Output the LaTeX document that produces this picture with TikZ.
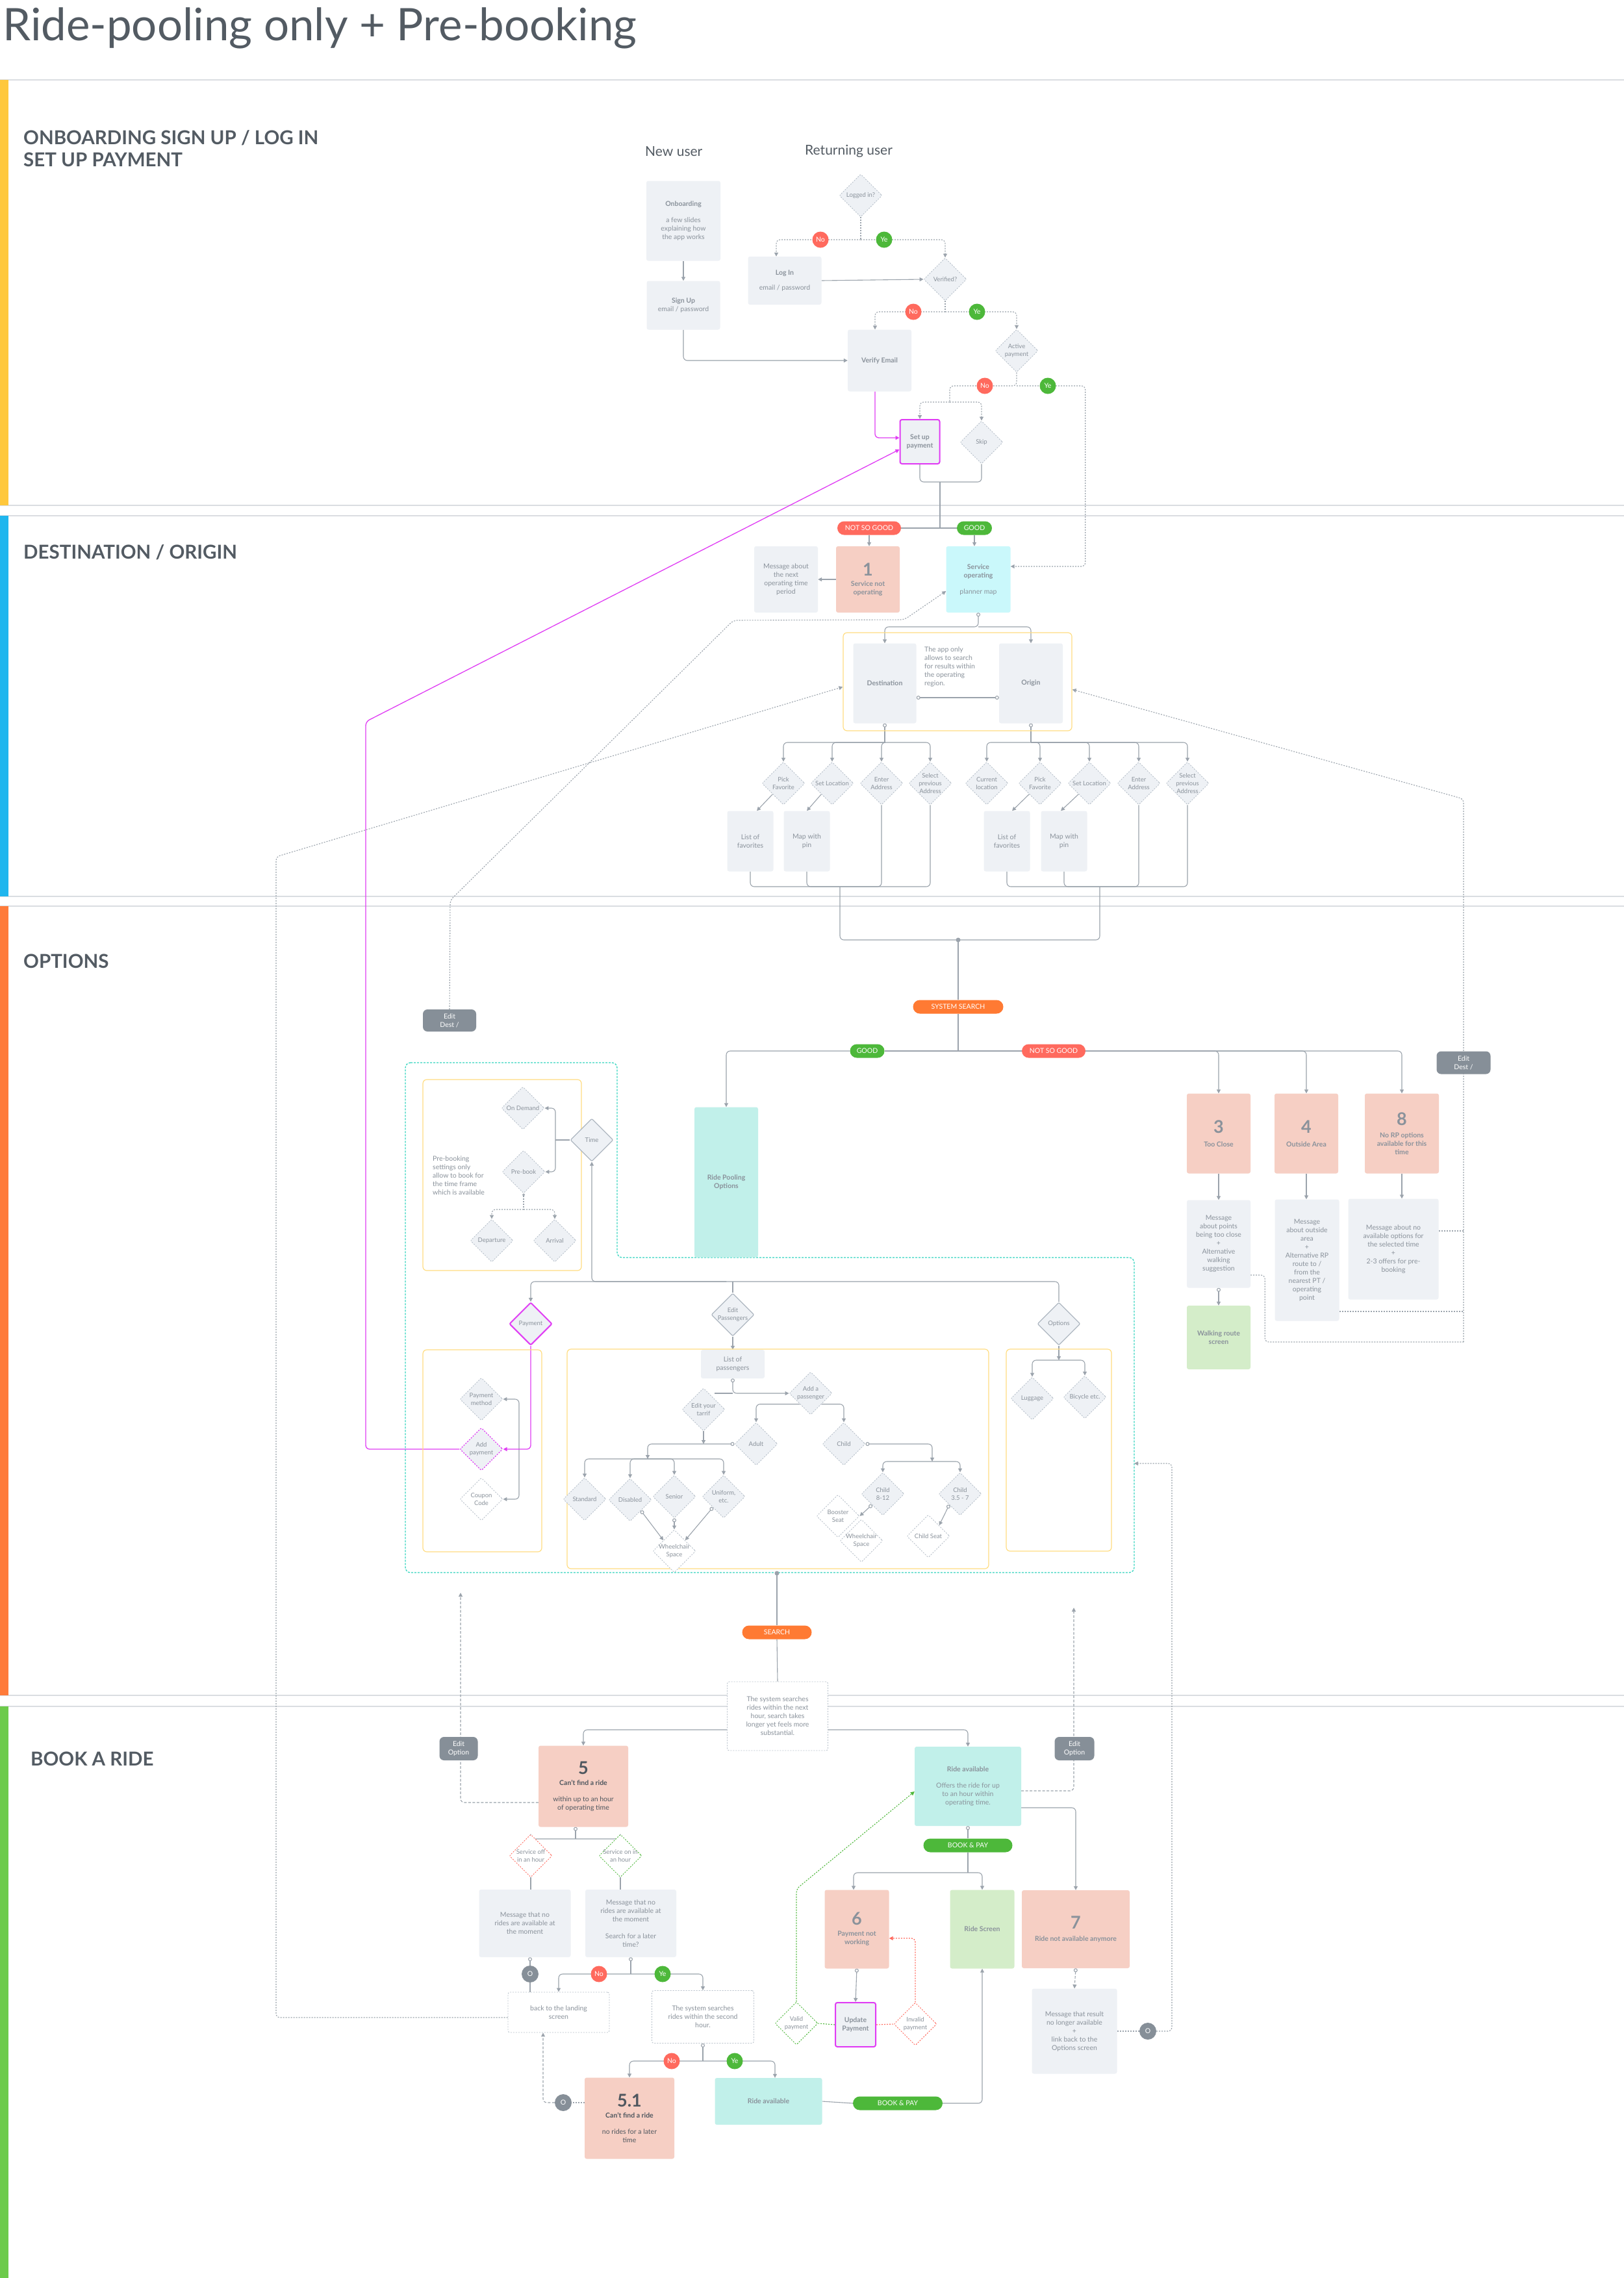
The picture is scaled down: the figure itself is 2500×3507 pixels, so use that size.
\documentclass[tikz,border=0pt]{standalone}
\usepackage{fontspec}
\setmainfont{Lato}
\usetikzlibrary{shapes.geometric, arrows.meta, positioning, fit, calc, backgrounds}

\definecolor{lnc}{HTML}{9BA3AC}
\definecolor{boxg}{HTML}{EEF1F5}
\definecolor{txt}{HTML}{8A929B}
\definecolor{darkt}{HTML}{4F575F}
\definecolor{titlec}{HTML}{535B63}
\definecolor{dashc}{HTML}{B7C0CA}
\definecolor{edgec}{HTML}{AEB7C1}
\definecolor{salmon}{HTML}{F6CFC4}
\definecolor{cyanbx}{HTML}{CAF8FB}
\definecolor{mint}{HTML}{C1F0EA}
\definecolor{lgreen}{HTML}{D4EDC9}
\definecolor{ybord}{HTML}{FFDD82}
\definecolor{tealc}{HTML}{34D5BF}
\definecolor{mag}{HTML}{E03CF4}
\definecolor{nred}{HTML}{FF6A5E}
\definecolor{ngreen}{HTML}{4DB83A}
\definecolor{norange}{HTML}{FF7A33}
\definecolor{pgrey}{HTML}{868F98}
\definecolor{sepl}{HTML}{DADDE1}
\definecolor{barY}{HTML}{FFC83C}
\definecolor{barB}{HTML}{1FB6EE}
\definecolor{barO}{HTML}{FF7B3A}
\definecolor{barG}{HTML}{6DCB4B}

\newcommand{\txtfont}{\fontsize{10.5}{13}\selectfont}
\newcommand{\dfont}{\fontsize{9.5}{11.7}\selectfont}
\newcommand{\pillfont}{\fontsize{10.5}{12}\selectfont}
\newcommand{\numfont}{\fontsize{27}{28}\selectfont\bfseries}
\newcommand{\headfont}{\fontsize{29.5}{34}\selectfont\bfseries}

\begin{document}
\begin{tikzpicture}[x=1pt, y=-1pt,
    bx/.style={rectangle, rounded corners=3pt, fill=boxg, text=txt, align=center,
               font=\txtfont, inner sep=2pt},
    sz/.style 2 args={minimum width=#1pt, minimum height=#2pt},
    wbx/.style={bx, fill=white, draw=dashc, dash pattern=on 2pt off 2pt, line width=0.9pt},
    dia/.style={diamond, rounded corners=2pt, draw=dashc, dash pattern=on 2pt off 2pt,
                line width=0.9pt, fill=boxg, minimum size=66pt, inner sep=0pt},
    wdia/.style={dia, fill=white},
    edia/.style={dia, solid, draw=edgec, line width=1.2pt},
    dlab/.style={font=\dfont, text=txt, align=center},
    dl/.style={label={[dlab]center:#1}},
    pill/.style={rectangle, rounded corners=10.5pt, minimum height=21pt, inner sep=0pt,
                 text=white, font=\pillfont},
    yn/.style={circle, minimum size=25pt, inner sep=0pt, text=white, font=\txtfont},
    greyo/.style={circle, fill=pgrey, minimum size=26pt, inner sep=0pt, text=white, font=\txtfont},
    editpl/.style={rectangle, rounded corners=7pt, fill=pgrey, text=white, font=\txtfont,
                   align=center, inner sep=1pt},
    grp/.style={draw=ybord, rounded corners=6pt, line width=1.2pt, inner sep=0pt},
    conn/.style={draw=lnc, line width=1.1pt, rounded corners=6pt},
    arr/.style={conn, -{Triangle[length=6pt,width=6pt]}},
    oarr/.style={conn, {Circle[open,fill=white,length=6pt,width=6pt]}-{Triangle[length=6pt,width=6pt]}},
    oline/.style={conn, {Circle[open,fill=white,length=6pt,width=6pt]}-},
    dotl/.style={conn, dash pattern=on 2pt off 2pt},
    dotarr/.style={arr, dash pattern=on 2pt off 2pt},
    dasharr/.style={arr, dash pattern=on 4pt off 2.5pt},
    magarr/.style={arr, draw=mag, line width=1.3pt},
    hd/.style={anchor=west, font=\headfont, text=titlec, align=left, inner sep=0pt},
    sepline/.style={draw=sepl, line width=1.3pt}
  ]
  \useasboundingbox (0,0) rectangle (2500,3507);

  % Titel und Sektionen
  \node[anchor=base west, font=\fontsize{69}{69}\selectfont, text=titlec, inner sep=0pt]
    (title) at (4,62) {Ride-pooling only + Pre-booking};
  \node[hd] (h1) at (36,229) {ONBOARDING SIGN UP / LOG IN\\SET UP PAYMENT};
  \node[hd] (h2) at (36,850) {DESTINATION / ORIGIN};
  \node[hd] (h3) at (36,1480) {OPTIONS};
  \node[hd] (h4) at (47,2708) {BOOK A RIDE};
  \node[anchor=west, font=\fontsize{21}{24}\selectfont, text=titlec, inner sep=0pt]
    (newu) at (993,233) {New user};
  \node[anchor=west, font=\fontsize{21}{24}\selectfont, text=titlec, inner sep=0pt]
    (retu) at (1239,233) {Returning user};

  % Onboarding
  \node[bx, sz={114}{123}] (onb) at (1052,340)
    {\textbf{Onboarding}\\[12pt]a few slides\\explaining how\\the app works};
  \node[bx, sz={113}{75}] (signup) at (1052,470) {\textbf{Sign Up}\\email / password};
  \node[dia, dl={Logged in?}] (logged) at (1325,301) {};
  \node[bx, sz={113}{74}] (login) at (1208,432) {\textbf{Log In}\\[10pt]email / password};
  \node[dia, dl={Verified?}] (verif) at (1455,430) {};
  \node[bx, sz={98}{95}] (vemail) at (1354,555) {\textbf{Verify Email}};
  \node[dia, dl={Active\\payment}] (actp) at (1565,540) {};
  \node[bx, sz={61}{68}, draw=mag, line width=2pt] (setpay) at (1416,680)
    {\textbf{Set up}\\\textbf{payment}};
  \node[dia, dl={Skip}] (skip) at (1511,681) {};
  \node[yn, fill=nred] (no1) at (1263,369) {No};
  \node[yn, fill=ngreen] (ye1) at (1361,369) {Ye};
  \node[yn, fill=nred] (no2) at (1406,480) {No};
  \node[yn, fill=ngreen] (ye2) at (1504,480) {Ye};
  \node[yn, fill=nred] (no3) at (1516,594) {No};
  \node[yn, fill=ngreen] (ye3) at (1613,594) {Ye};

  % Destination / Origin
  \node[pill, fill=nred, minimum width=98pt] (nsg1) at (1338,813) {NOT SO GOOD};
  \node[pill, fill=ngreen, minimum width=54pt] (good1) at (1500,813) {GOOD};
  \node[bx, sz={98}{102}, fill=salmon] (sno) at (1336,892)
    {{\numfont 1}\\[3pt]\textbf{Service not}\\\textbf{operating}};
  \node[bx, sz={98}{102}] (msg1) at (1210,892) {Message about\\the next\\operating time\\period};
  \node[bx, sz={99}{102}, fill=cyanbx] (servop) at (1506,892)
    {\textbf{Service}\\\textbf{operating}\\[12pt]planner map};
  \node[bx, sz={97}{123}] (dest) at (1362,1052) {\textbf{Destination}};
  \node[bx, sz={98}{123}] (orig) at (1587,1052) {\textbf{Origin}};
  \node[text=txt, font=\txtfont, align=left, anchor=north west, inner sep=0pt] (apponly)
    at (1423,996) {The app only\\allows to search\\for results within\\the operating\\region.};
  \node[grp, fit={(1298,974)(1650,1125)}] (dorc) {};
  \node[dia, dl={Pick\\Favorite}] (dPF) at (1206,1206) {};
  \node[dia, dl={Set Location}] (dSL) at (1281,1206) {};
  \node[dia, dl={Enter\\Address}] (dEA) at (1357,1206) {};
  \node[dia, dl={Select\\previous\\Address}] (dSP) at (1432,1206) {};
  \node[dia, dl={Current\\location}] (oCL) at (1519,1206) {};
  \node[dia, dl={Pick\\Favorite}] (oPF) at (1601,1206) {};
  \node[dia, dl={Set Location}] (oSL) at (1677,1206) {};
  \node[dia, dl={Enter\\Address}] (oEA) at (1753,1206) {};
  \node[dia, dl={Select\\previous\\Address}] (oSP) at (1828,1206) {};
  \node[bx, sz={71}{93}] (lfav1) at (1155,1295) {List of\\favorites};
  \node[bx, sz={71}{93}] (map1) at (1242,1295) {Map with\\pin};
  \node[bx, sz={71}{93}] (lfav2) at (1550,1295) {List of\\favorites};
  \node[bx, sz={71}{93}] (map2) at (1638,1295) {Map with\\pin};

  % Options
  \node[pill, fill=norange, minimum width=139pt] (ssearch) at (1475,1550) {SYSTEM SEARCH};
  \node[pill, fill=ngreen, minimum width=53pt] (good2) at (1335,1618) {GOOD};
  \node[pill, fill=nred, minimum width=98pt] (nsg2) at (1622,1618) {NOT SO GOOD};
  \node[bx, sz={98}{123}, fill=salmon] (box3) at (1876,1745) {{\numfont 3}\\[8pt]\textbf{Too Close}};
  \node[bx, sz={98}{123}, fill=salmon] (box4) at (2011,1745) {{\numfont 4}\\[8pt]\textbf{Outside Area}};
  \node[bx, sz={114}{123}, fill=salmon] (box8) at (2158,1745)
    {{\numfont 8}\\[6pt]\textbf{No RP options}\\\textbf{available for this}\\\textbf{time}};
  \node[bx, sz={98}{135}] (msg3) at (1876,1915)
    {Message\\about points\\being too close\\+\\Alternative\\walking\\suggestion};
  \node[bx, sz={99}{187}] (msg4) at (2012,1940)
    {Message\\about outside\\area\\+\\Alternative RP\\route to /\\from the\\nearest PT /\\operating\\point};
  \node[bx, sz={139}{155}] (msg8) at (2145,1923)
    {Message about no\\available options for\\the selected time\\+\\2-3 offers for pre-\\booking};
  \node[bx, sz={98}{98}, fill=lgreen] (walk) at (1876,2059) {\textbf{Walking route}\\\textbf{screen}};
  \node[editpl, sz={82}{34}] (edL) at (692,1571) {Edit\\Dest /};
  \node[editpl, sz={83}{35}] (edR) at (2253,1636) {Edit\\Dest /};
  \node[bx, sz={98}{231}, fill=mint] (rpo) at (1118,1820) {\textbf{Ride Pooling}\\\textbf{Options}};

  % Zeit
  \node[grp, fit={(651,1662)(895,1956)}] (tgrp) {};
  \node[dia, dl={On Demand}] (ondem) at (805,1706) {};
  \node[dia, dl={Pre-book}] (prebook) at (806,1804) {};
  \node[edia, dl={Time}] (timed) at (911,1755) {};
  \node[dia, dl={Departure}] (depart) at (757,1910) {};
  \node[dia, dl={Arrival}] (arriv) at (854,1910) {};
  \node[text=txt, font=\txtfont, align=left, anchor=north west, inner sep=0pt] (pbtext)
    at (666,1780) {Pre-booking\\settings only\\allow to book for\\the time frame\\which is available};

  % Zahlung
  \node[edia, draw=mag, line width=2pt, dl={Payment}] (payd) at (817,2038) {};
  \node[grp, fit={(651,2078)(834,2389)}] (pgrp) {};
  \node[dia, dl={Payment\\method}] (paym) at (741,2154) {};
  \node[dia, draw=mag, line width=1.2pt, dl={Add\\payment}] (addpay) at (741,2231) {};
  \node[wdia, dl={Coupon\\Code}] (coupon) at (741,2308) {};

  % Passagiere
  \node[edia, dl={Edit\\Passengers}] (editp) at (1128,2024) {};
  \node[grp, fit={(873,2077)(1522,2415)}] (pasgrp) {};
  \node[bx, sz={98}{44}] (lop) at (1128,2100) {List of\\passengers};
  \node[dia, dl={Edit your\\tarrif}] (edtar) at (1083,2170) {};
  \node[dia, dl={Add a\\passenger}] (addp) at (1248,2145) {};
  \node[dia, dl={Adult}] (adult) at (1164,2223) {};
  \node[dia, dl={Child}] (child) at (1299,2223) {};
  \node[dia, dl={Standard}] (std) at (900,2308) {};
  \node[dia, dl={Disabled}] (dis) at (970,2309) {};
  \node[dia, dl={Senior}] (sen) at (1038,2304) {};
  \node[dia, dl={{Uniform,\\etc.}}] (uni) at (1114,2304) {};
  \node[wdia, dl={Wheelchair\\Space}] (wch) at (1038,2388) {};
  \node[dia, dl={Child\\8-12}] (c812) at (1359,2300) {};
  \node[dia, dl={Child\\3.5 - 7}] (c357) at (1478,2300) {};
  \node[wdia, dl={Booster\\Seat}] (booster) at (1290,2334) {};
  \node[wdia, dl={Wheelchair\\Space}] (wch2) at (1326,2372) {};
  \node[wdia, dl={Child Seat}] (cseat) at (1429,2365) {};

  % Optionen
  \node[edia, dl={Options}] (optd) at (1630,2038) {};
  \node[grp, fit={(1549,2077)(1711,2388)}] (ogrp) {};
  \node[dia, dl={Luggage}] (lugg) at (1589,2153) {};
  \node[dia, dl={Bicycle etc.}] (bike) at (1670,2151) {};

  % Buchen
  \node[pill, fill=norange, minimum width=107pt] (search) at (1196,2513) {SEARCH};
  \node[wbx, sz={155}{106}] (sysbox) at (1197,2642)
    {The system searches\\rides within the next\\hour, search takes\\longer yet feels more\\substantial.};
  \node[bx, sz={138}{125}, fill=salmon, text=darkt] (box5) at (898,2750)
    {{\numfont 5}\\[4pt]\textbf{Can't find a ride}\\[12pt]within up to an hour\\of operating time};
  \node[editpl, sz={59}{36}] (eoL) at (706,2692) {Edit\\Option};
  \node[editpl, sz={61}{36}] (eoR) at (1654,2692) {Edit\\Option};
  \node[bx, sz={164}{122}, fill=mint] (ravail) at (1490,2750)
    {\textbf{Ride available}\\[12pt]Offers the ride for up\\to an hour within\\operating time.};
  \node[dia, fill=white, draw=nred, dl={Service off\\in an hour}] (soff) at (817,2857) {};
  \node[dia, fill=white, draw=ngreen, dl={Service on in\\an hour}] (son) at (955,2857) {};
  \node[bx, sz={141}{104}] (msgA) at (808,2961) {Message that no\\rides are available at\\the moment};
  \node[bx, sz={140}{104}] (msgB) at (971,2961)
    {Message that no\\rides are available at\\the moment\\[13pt]Search for a later\\time?};
  \node[pill, fill=ngreen, minimum width=137pt] (bp1) at (1490,2841) {BOOK \& PAY};
  \node[bx, sz={99}{121}, fill=salmon] (box6) at (1319,2970)
    {{\numfont 6}\\[4pt]\textbf{Payment not}\\\textbf{working}};
  \node[bx, sz={99}{121}, fill=lgreen] (rscreen) at (1512,2970) {\textbf{Ride Screen}};
  \node[bx, sz={166}{120}, fill=salmon] (box7) at (1656,2970)
    {{\numfont 7}\\[6pt]\textbf{Ride not available anymore}};
  \node[bx, sz={62}{68}, draw=mag, line width=2pt] (upd) at (1317,3117)
    {\textbf{Update}\\\textbf{Payment}};
  \node[dia, fill=white, draw=nred, dl={Invalid\\payment}] (inv) at (1409,3116) {};
  \node[dia, fill=white, draw=ngreen, dl={Valid\\payment}] (val) at (1226,3115) {};
  \node[bx, sz={131}{131}] (msg7) at (1654,3127)
    {Message that result\\no longer available\\+\\link back to the\\Options screen};
  \node[greyo] (o7) at (1767,3127) {O};
  \node[greyo] (oA) at (816,3039) {O};
  \node[wbx, sz={156}{62}] (landing) at (860,3098) {back to the landing\\screen};
  \node[wbx, sz={157}{81}] (sys2) at (1082,3105)
    {The system searches\\rides within the second\\hour.};
  \node[bx, sz={138}{125}, fill=salmon, text=darkt] (box51) at (969,3261)
    {{\numfont 5.1}\\[4pt]\textbf{Can't find a ride}\\[12pt]no rides for a later\\time};
  \node[bx, sz={165}{72}, fill=mint] (ravail2) at (1183,3235) {\textbf{Ride available}};
  \node[pill, fill=ngreen, minimum width=138pt] (bp2) at (1382,3238) {BOOK \& PAY};
  \node[greyo] (o51) at (867,3237) {O};
  \node[yn, fill=nred] (no4) at (922,3039) {No};
  \node[yn, fill=ngreen] (ye4) at (1020,3039) {Ye};
  \node[yn, fill=nred] (no5) at (1034,3173) {No};
  \node[yn, fill=ngreen] (ye5) at (1131,3173) {Ye};

  \begin{scope}[on background layer]
    % Hintergrund, Trennlinien, Farbbalken
    \fill[white] (0,0) rectangle (2500,3507);
    \foreach \yy in {123,778,794,1380,1395,2610,2627}
      \draw[sepline] (0,\yy) -- (2500,\yy);
    \fill[barY] (0,123) rectangle (13,778);
    \fill[barB] (0,794) rectangle (13,1380);
    \fill[barO] (0,1395) rectangle (13,2610);
    \fill[barG] (0,2627) rectangle (13,3507);

    % Verbindungen Onboarding
    \draw[arr] (onb.south) -- (signup.north);
    \draw[arr] (signup.south) |- (vemail.west);
    \coordinate (lgj) at (1325,369);
    \draw[dotl] (logged.south) -- (lgj);
    \draw[dotarr] (lgj) -| ([xshift=-13pt]login.north);
    \draw[dotarr] (lgj) -| (verif.north);
    \draw[arr] (login.east) -- (verif.west);
    \coordinate (vj) at (1455,480);
    \draw[dotl] (verif.south) -- (vj);
    \draw[dotarr] (vj) -| ([xshift=-7pt]vemail.north);
    \draw[dotarr] (vj) -| (actp.north);
    \coordinate (aj) at (1565,594);
    \coordinate (sj) at (1462,619);
    \draw[dotl] (actp.south) -- (aj) -| (sj);
    \draw[dotarr] (sj) -| (setpay.north);
    \draw[dotarr] (sj) -| (skip.north);
    \draw[dotarr] (aj) -| ([xshift=115pt,yshift=20pt]servop.east) -- ([yshift=20pt]servop.east);
    \draw[magarr] ([xshift=-7pt]vemail.south) |- ([yshift=6pt]setpay.west);
    \coordinate (mj) at (1447,742);
    \draw[conn] (setpay.south) |- (mj) -| (skip.south);
    \draw[conn] (mj) -- (mj |- good1.west);
    \draw[conn] (nsg1.east) -- (good1.west);
    \draw[arr] (nsg1.south) -- (nsg1.south |- sno.north);
    \draw[arr] (good1.south) -- (good1.south |- servop.north);
    \draw[arr] (sno.west) -- (msg1.east);

    % Verbindungen Destination / Origin
    \coordinate (soj) at (1506,965);
    \draw[oarr] (servop.south) -- (soj) -| (dest.north);
    \draw[arr] (soj) -| (orig.north);
    \draw[conn, {Circle[open,fill=white,length=6pt,width=6pt]}-{Circle[open,fill=white,length=6pt,width=6pt]}]
      ([yshift=-22pt]dest.east) -- ([yshift=-22pt]orig.west);
    \coordinate (dj) at (1362,1143);
    \draw[oline] (dest.south) -- (dj);
    \foreach \n in {dPF,dSL,dEA,dSP}
      \draw[arr] (dj) -| (\n.north);
    \coordinate (oj) at (1587,1143);
    \draw[oline] (orig.south) -- (oj);
    \foreach \n in {oCL,oPF,oSL,oEA,oSP}
      \draw[arr] (oj) -| (\n.north);
    \draw[arr] (dPF.south west) -- ([xshift=10pt]lfav1.north);
    \draw[arr] (dSL.south west) -- (map1.north);
    \draw[arr] (oPF.south west) -- ([xshift=8pt]lfav2.north);
    \draw[arr] (oSL.south west) -- ([xshift=-5pt]map2.north);
    \coordinate (dc) at (1293,1365);
    \coordinate (oc) at (1693,1365);
    \coordinate (sdot) at (1475,1447);
    \draw[conn] (lfav1.south) |- (dc) -| (dSP.south);
    \draw[conn] (map1.south) |- (dc) -| (dEA.south);
    \draw[conn] (lfav2.south) |- (oc) -| (oSP.south);
    \draw[conn] (map2.south) |- (oc) -| (oEA.south);
    \draw[conn] (dc) |- (sdot) -| (oc);
    \fill[lnc] (sdot) circle (3.5pt);
    \draw[conn] (sdot) -- (ssearch.north);

    % Verbindungen Suche
    \coordinate (sbus) at (1475,1618);
    \draw[conn] (ssearch.south) -- (sbus);
    \draw[conn] (good2.east) -- (nsg2.west);
    \draw[arr] (good2.west) -| (rpo.north);
    \foreach \n in {box3,box4,box8}
      \draw[arr] (nsg2.east) -| (\n.north);
    \foreach \n in {3,4,8}
      \draw[arr] (box\n.south) -- (box\n.south |- msg\n.north);
    \draw[oarr] (msg3.south) -- (walk.north);
    \coordinate (rtr) at (2253,2066);
    \coordinate (rtop) at (2253,1230);
    \draw[dotl] ([yshift=28pt]msg8.east) -- ++(38,0);
    \draw[dotl] ([yshift=-79pt]msg4.east) -- ++(191,0);
    \draw[dotl] ([yshift=-48pt]msg3.east) -- ++(22,0) |- (rtr);
    \draw[dotarr] (rtr) -- (rtop) -- ([yshift=-12pt]dorc.east);
    \draw[dotarr] (edL.north) -- (693,1386) -- (1129,955) -- (1392,954) -- ([yshift=-18pt]servop.west);
    \draw[dotarr] ([yshift=-8pt]landing.west) -| (425,1319) -- ([yshift=-8pt]dorc.west);

    % Zeit
    \coordinate (tj) at (855,1755);
    \draw[conn] (timed.west) -- (tj);
    \draw[arr] (tj) |- (ondem.east);
    \draw[arr] (tj) |- (prebook.east);
    \coordinate (pbj) at (806,1862);
    \draw[dotl, {Circle[open,fill=white,length=4pt,width=4pt]}-] (prebook.south) -- (pbj);
    \draw[dotarr] (pbj) -| (depart.north);
    \draw[dotarr] (pbj) -| (arriv.north);
    \coordinate (obus) at (1118,1973);
    \draw[arr] (obus) -| (payd.north);
    \draw[arr] (obus) -| (timed.south);
    \draw[conn] (obus) -| (optd.north);
    \draw[conn] (editp.north |- obus) -- (editp.north);

    % Zahlung
    \coordinate (pbr) at (799,2231);
    \draw[arr] (pbr) |- (paym.east);
    \draw[arr] (pbr) |- (coupon.east);
    \draw[magarr] (payd.south) |- (addpay.east);
    \coordinate (magt) at (563,1111);
    \draw[magarr] (addpay.west) -| (magt) -- ([yshift=-12pt]setpay.west);

    % Passagiere
    \draw[arr] (editp.south) -- (lop.north);
    \draw[oarr] (lop.south) |- (addp.west);
    \draw[conn] (lop.south |- addp.west) -- (edtar.north east |- addp.west);
    \draw[arr] (addp.south west) -| (adult.north);
    \draw[arr] (addp.south east) -| (child.north);
    \draw[arr] (edtar.south) -- (edtar.south |- adult.west);
    \coordinate (tarj) at (997,2246);
    \draw[oarr] (adult.west) -| (tarj);
    \foreach \n in {std,dis,sen,uni}
      \draw[arr] (tarj) -| (\n.north);
    \draw[oarr] (dis.south east) -- (wch.north west);
    \draw[oarr] (sen.south) -- (wch.north);
    \draw[oarr] (uni.south west) -- (wch.north east);
    \coordinate (chj) at (1435,2250);
    \draw[oarr] (child.east) -| (chj);
    \draw[arr] (chj) -| (c812.north);
    \draw[arr] (chj) -| (c357.north);
    \draw[oarr] (c812.south west) -- (booster.east);
    \draw[oarr] (c357.south west) -- (cseat.north east);

    % Optionen
    \coordinate (optj) at (1630,2094);
    \draw[arr] (optd.south) -- (optj);
    \draw[arr] (optj) -| (lugg.north);
    \draw[arr] (optj) -| (bike.north);

    % Rahmen Optionen
    \draw[tealc, line width=1.3pt, dash pattern=on 3pt off 2pt, rounded corners=8pt]
      (624,1636) -- (950,1636) -- (950,1936) -- (1746,1936) -- (1746,2421) -- (624,2421) -- cycle;
    \coordinate (tdot) at (1196,2422);
    \draw[conn] (tdot) -- (search.north);
    \fill[lnc] (tdot) circle (3.5pt);
    \draw[conn] (search.south) -- (sysbox.north);
    \draw[dotl] (msg7.east) -- (o7.west);
    \draw[dotarr] (o7.east) -| (1804,2253) -- (1746,2253);

    % Verbindungen Buchen
    \draw[arr] ([yshift=-21pt]sysbox.west) -| (box5.north);
    \draw[arr] ([yshift=-21pt]sysbox.east) -| (ravail.north);
    \coordinate (eoLt) at (709,2452);
    \coordinate (eoRt) at (1653,2475);
    \draw[dasharr] ([yshift=-25pt]box5.west) -| (eoLt);
    \draw[dasharr] ([yshift=-7pt]ravail.east) -| (eoRt);
    \draw[arr] ([yshift=-33pt]ravail.east) -| (box7.north);
    \draw[oline] (ravail.south) -- (bp1.north);
    \coordinate (bpj) at (1490,2883);
    \draw[conn] (bp1.south) -- (bpj);
    \draw[arr] (bpj) -| ([xshift=-5pt]box6.north);
    \draw[arr] (bpj) -| (rscreen.north);
    \draw[oarr] (box6.south) -- (upd.north);
    \draw[conn, draw=nred, dash pattern=on 2pt off 2pt] (upd.east) -- (inv.west);
    \draw[dotarr, draw=nred, line width=1.3pt] (inv.north) |- ([yshift=-14pt]box6.east);
    \draw[conn, draw=ngreen, dash pattern=on 2pt off 2pt] (upd.west) -- (val.east);
    \draw[dotarr, draw=ngreen] (val.north) -- (1226,2908) -- ([yshift=-8pt]ravail.west);
    \draw[dasharr, {Circle[open,fill=white,length=6pt,width=6pt]}-{Triangle[length=6pt,width=6pt]}]
      (box7.south) -- (msg7.north);
    \coordinate (b5j) at (886,2831);
    \draw[oline] ([xshift=-12pt]box5.south) -- (b5j);
    \draw[conn] (soff.north) |- (b5j) -| (son.north);
    \draw[conn] (soff.south) -- (soff.south |- msgA.north);
    \draw[conn] (son.south) -- (son.south |- msgB.north);
    \draw[oline] ([xshift=8pt]msgA.south) -- (oA.north);
    \draw[conn] (oA.south) -- (oA.south |- landing.north);
    \coordinate (mbj) at (971,3039);
    \draw[oline] (msgB.south) -- (mbj);
    \draw[arr] (mbj) -| (landing.north);
    \draw[arr] (mbj) -| (sys2.north);
    \coordinate (s2j) at (1082,3173);
    \draw[oline] (sys2.south) -- (s2j);
    \draw[arr] (s2j) -| (box51.north);
    \draw[arr] (s2j) -| ([xshift=10pt]ravail2.north);
    \draw[dotl] ([yshift=24pt]box51.west) -- (o51.east);
    \draw[dasharr] (o51.west) -| ([xshift=-24pt]landing.south);
    \draw[conn] (ravail2.east) -- (bp2.west);
    \draw[arr] (bp2.east) -| (rscreen.south);
  \end{scope}
\end{tikzpicture}
\end{document}
